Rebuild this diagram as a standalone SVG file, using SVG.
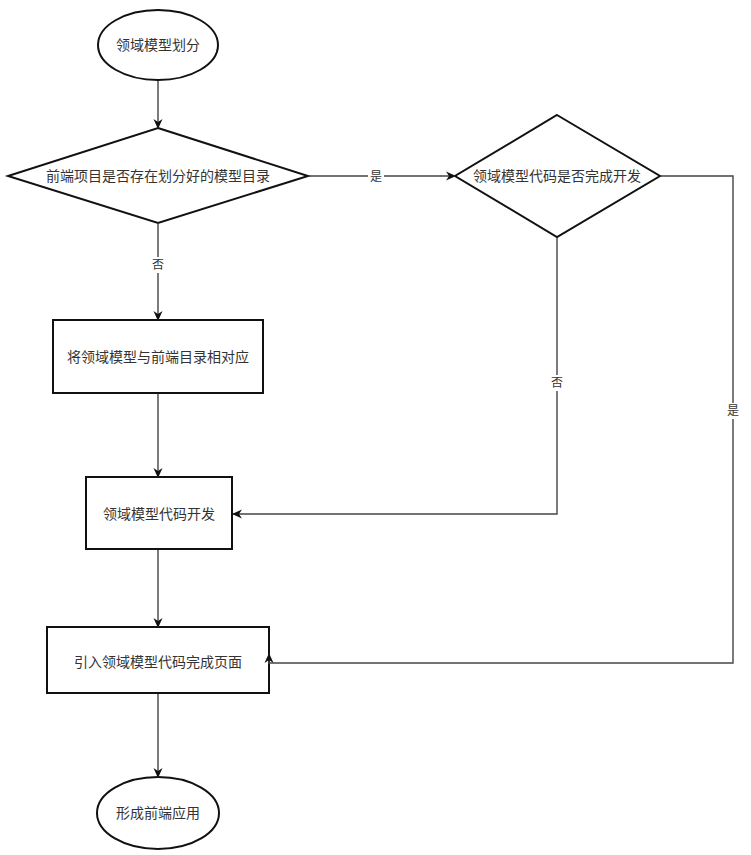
<svg xmlns="http://www.w3.org/2000/svg" width="751" height="855" viewBox="0 0 751 855">
<style>
.s{fill:#fff;stroke:#111;stroke-width:2}
.t{font-family:"Liberation Sans","Noto Sans CJK SC",sans-serif;font-size:14px;fill:#333;text-anchor:middle;dominant-baseline:central}
.c{fill:none;stroke:#444;stroke-width:1.4}
.l{font-family:"Liberation Sans","Noto Sans CJK SC",sans-serif;font-size:12px;fill:#333;text-anchor:middle;dominant-baseline:central}
.lb{fill:#fff}
</style>
<defs>
<marker id="a" markerWidth="10" markerHeight="10" refX="9" refY="5" orient="auto" markerUnits="userSpaceOnUse">
<path d="M0,0.5 L10,5 L0,9.5 L3,5 z" fill="#111"/>
</marker>
</defs>
<rect width="751" height="855" fill="#fff"/>
<g id="n1"><ellipse class="s" cx="158" cy="45" rx="60" ry="35"/><text class="t" x="158" y="45">领域模型划分</text></g>
<g id="n2"><polygon class="s" points="158,128 308,176 158,223 8,176"/><text class="t" x="158" y="176">前端项目是否存在划分好的模型目录</text></g>
<g id="n3"><polygon class="s" points="557,115 660,176 557,237 455,176"/><text class="t" x="557" y="176">领域模型代码是否完成开发</text></g>
<g id="n4"><rect class="s" x="53" y="320" width="210" height="73"/><text class="t" x="158" y="357">将领域模型与前端目录相对应</text></g>
<g id="n5"><rect class="s" x="86" y="477" width="146" height="72"/><text class="t" x="159" y="514">领域模型代码开发</text></g>
<g id="n6"><rect class="s" x="47" y="627" width="222" height="66"/><text class="t" x="158" y="662">引入领域模型代码完成页面</text></g>
<g id="n7"><ellipse class="s" cx="158" cy="813" rx="61" ry="36"/><text class="t" x="158" y="813">形成前端应用</text></g>
<g id="connectors">
<line class="c" x1="158" y1="81" x2="158" y2="128" marker-end="url(#a)"/>
<line class="c" x1="309" y1="176" x2="455" y2="176" marker-end="url(#a)"/>
<line class="c" x1="158" y1="224" x2="158" y2="320" marker-end="url(#a)"/>
<line class="c" x1="158" y1="394" x2="158" y2="477" marker-end="url(#a)"/>
<polyline class="c" points="557,238 557,514 233,514" marker-end="url(#a)"/>
<line class="c" x1="158" y1="550" x2="158" y2="627" marker-end="url(#a)"/>
<polyline class="c" points="661,176 733,176 733,663 269,663"/>
<line class="c" x1="269" y1="664" x2="269" y2="654" marker-end="url(#a)"/>
<line class="c" x1="158" y1="694" x2="158" y2="777" marker-end="url(#a)"/>
<rect class="lb" x="368" y="169" width="16" height="15"/>
<text class="l" x="376" y="177">是</text>
<rect class="lb" x="150" y="257" width="16" height="16"/>
<text class="l" x="158" y="265">否</text>
<rect class="lb" x="549" y="375" width="16" height="16"/>
<text class="l" x="557" y="383">否</text>
<rect class="lb" x="725" y="403" width="16" height="16"/>
<text class="l" x="733" y="411">是</text>
</g>
</svg>
